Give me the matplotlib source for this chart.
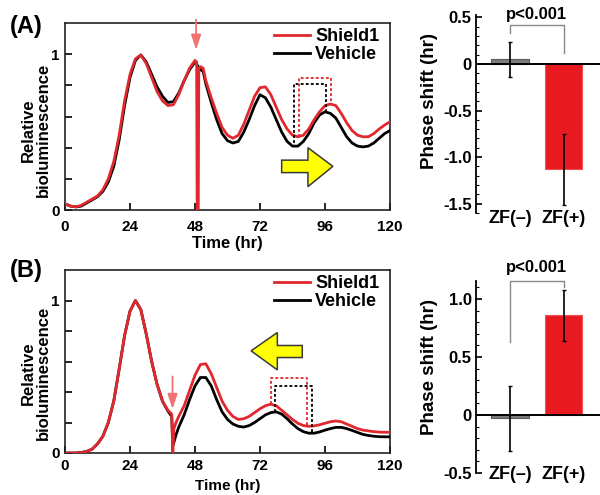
import matplotlib
matplotlib.use('Agg')
import matplotlib.pyplot as plt
from matplotlib.patches import Polygon

plt.rcParams['font.family'] = ['Liberation Sans', 'DejaVu Sans']
plt.rcParams['font.weight'] = 'bold'

RED = '#e0282e'
ARROW_RED = '#f07272'

# ---- panel A traces (time in hr, relative bioluminescence) ----
time_a = [0, 2, 4, 6, 8, 10, 12, 14, 16, 18, 20, 22, 24, 26, 28, 30, 32, 34, 36, 38,
          40, 42, 44, 46, 48, 48.6, 48.8, 49.2, 49.4, 50, 51,
          52, 54, 56, 58, 60, 62, 64, 66, 68, 70, 72, 74, 76, 78, 80, 82, 84, 86, 88,
          90, 92, 94, 96, 98, 100, 102, 104, 106, 108, 110, 112, 114, 116, 118, 120]
shield_a = [0.04, 0.025, 0.02, 0.03, 0.05, 0.07, 0.09, 0.13, 0.20, 0.31, 0.48, 0.70,
            0.87, 0.97, 0.995, 0.94, 0.85, 0.76, 0.70, 0.67, 0.675, 0.74, 0.83, 0.91,
            0.96, 0.95, 0.0, 0.0, 0.91, 0.92, 0.91,
            0.83, 0.72, 0.62, 0.53, 0.48, 0.46, 0.48, 0.55, 0.64, 0.73, 0.785, 0.79,
            0.74, 0.66, 0.58, 0.52, 0.48, 0.47, 0.48, 0.52, 0.58, 0.63, 0.67, 0.68,
            0.67, 0.62, 0.56, 0.51, 0.48, 0.47, 0.47, 0.49, 0.52, 0.545, 0.566]
vehicle_a = [0.04, 0.025, 0.02, 0.025, 0.045, 0.065, 0.085, 0.12, 0.18, 0.28, 0.45, 0.67,
             0.85, 0.96, 0.995, 0.95, 0.87, 0.79, 0.73, 0.69, 0.695, 0.75, 0.83, 0.90,
             0.95, 0.94, 0.93, 0.92, 0.91, 0.90, 0.89,
             0.81, 0.69, 0.58, 0.49, 0.445, 0.43, 0.44, 0.50, 0.58, 0.67, 0.74, 0.72,
             0.66, 0.58, 0.50, 0.44, 0.41, 0.41, 0.44, 0.49, 0.56, 0.61, 0.63, 0.62,
             0.59, 0.53, 0.47, 0.43, 0.41, 0.405, 0.41, 0.43, 0.46, 0.49, 0.51]

# ---- panel B traces ----
time_b = [0, 2, 4, 6, 8, 10, 12, 14, 16, 18, 20, 22, 24, 26, 28, 30, 32, 34, 36, 38,
          39.4, 39.8, 40.2, 41,
          42, 44, 46, 48, 50, 52, 54, 56, 58, 60, 62, 64, 66, 68, 70, 72, 74, 76, 78, 80,
          82, 84, 86, 88, 90, 92, 94, 96, 98, 100, 102, 104, 106, 108, 110, 112, 114,
          116, 118, 120]
shield_b = [0.0, 0.0, 0.0, 0.003, 0.01, 0.025, 0.06, 0.11, 0.20, 0.34, 0.55, 0.77,
            0.93, 1.0, 0.94, 0.78, 0.60, 0.45, 0.34, 0.28,
            0.255, 0.0, 0.16, 0.20,
            0.24, 0.31, 0.41, 0.51, 0.58, 0.585, 0.52, 0.43, 0.34, 0.28, 0.24, 0.22,
            0.225, 0.24, 0.265, 0.29, 0.31, 0.32, 0.31, 0.28, 0.25, 0.22, 0.195, 0.18,
            0.175, 0.178, 0.185, 0.195, 0.205, 0.21, 0.205, 0.19, 0.175, 0.16, 0.15,
            0.145, 0.14, 0.137, 0.136, 0.136]
vehicle_b = [0.0, 0.0, 0.0, 0.003, 0.01, 0.025, 0.06, 0.11, 0.20, 0.34, 0.55, 0.77,
             0.93, 1.0, 0.94, 0.78, 0.60, 0.45, 0.34, 0.275,
             0.24, 0.05, 0.07, 0.12,
             0.17, 0.25, 0.35, 0.44, 0.495, 0.495, 0.44, 0.35, 0.27, 0.22, 0.19, 0.175,
             0.17, 0.18, 0.20, 0.225, 0.25, 0.265, 0.27, 0.255, 0.225, 0.19, 0.16, 0.14,
             0.13, 0.13, 0.138, 0.15, 0.16, 0.168, 0.168, 0.16, 0.148, 0.135, 0.122,
             0.115, 0.11, 0.107, 0.106, 0.106]

# ---- phase shift bars ----
groups = ['ZF(\u2013)', 'ZF(+)']
shift_a = [0.05, -1.13]
err_a = [0.19, 0.38]
shift_b = [-0.03, 0.86]
err_b = [0.28, 0.22]

# peak/trough markers (dashed brackets): (t_left, y_left, t_right, y_right, top)
box_a_vehicle = (84.4, 0.43, 96.3, 0.63, 0.81)
box_a_shield = (86.3, 0.47, 98.1, 0.68, 0.845)
box_b_shield = (76.2, 0.32, 89.5, 0.185, 0.49)
box_b_vehicle = (77.7, 0.27, 91.3, 0.13, 0.44)


def px(x, y):
    """pixel position in the 600x495 canvas -> figure fraction"""
    return x / 600.0, 1 - y / 495.0


def draw_box(ax, box, color):
    t0, y0, t1, y1, top = box
    ax.plot([t0, t0, t1, t1], [y0, top, top, y1], color=color, lw=1.3,
            linestyle=(0, (1.6, 1.2)), zorder=4)


def draw_trace(ax, t, shield, vehicle, xpad=7):
    ax.plot(t, vehicle, color='black', lw=2.0, label='Vehicle', zorder=3)
    ax.plot(t, shield, color=RED, lw=2.0, label='Shield1', zorder=3.5)
    ax.set_xlim(0, 120)
    ax.set_ylim(0, 1.2)
    ax.set_xticks([0, 24, 48, 72, 96, 120])
    ax.set_xticklabels(['0', '24', '48', '72', '96', '120'], fontsize=11, fontweight='bold')
    ax.set_yticks([0, 0.2, 0.4, 0.6, 0.8, 1.0])
    ax.set_yticklabels(['0', '', '', '', '', '1'], fontsize=11, fontweight='bold')
    ax.tick_params(axis='x', direction='in', length=5, width=1.2, pad=xpad)
    ax.tick_params(axis='y', direction='in', length=5, width=1.2, pad=4)
    for s in ax.spines.values():
        s.set_linewidth(1.2)
        s.set_color('#222222')
    handles, labels = ax.get_legend_handles_labels()
    leg = ax.legend(handles[::-1], labels[::-1], loc='upper right',
                    bbox_to_anchor=(1.0, 1.03), frameon=False, fontsize=13,
                    handlelength=2.0, handletextpad=0.3, labelspacing=0.05,
                    borderaxespad=0.2)
    for txt in leg.get_texts():
        txt.set_fontweight('bold')


def draw_bars(ax, vals, errs, ylim, major, major_labels):
    x = [0, 1]
    ax.bar(x, vals, width=0.69, color=['#7d7d7d', '#e8191f'],
           edgecolor=['#5a5a5a', '#f05050'], linewidth=0.8, zorder=2)
    ax.errorbar(x, vals, yerr=errs, fmt='none', ecolor='black', elinewidth=1.2,
                capsize=1.5, capthick=1.0, zorder=3)
    ax.axhline(0, color='black', lw=1.4, zorder=4)
    ax.set_xlim(-0.63, 1.67)
    ax.set_ylim(*ylim)
    for side in ['top', 'right', 'bottom']:
        ax.spines[side].set_visible(False)
    ax.spines['left'].set_linewidth(1.3)
    ax.set_xticks([])
    ax.set_yticks(major)
    ax.set_yticklabels(major_labels, fontsize=12, fontweight='bold')
    minor = [round(ylim[0] + 0.1 * i, 2) for i in range(0, 40)]
    ax.set_yticks([m for m in minor if ylim[0] - 1e-6 <= m <= ylim[1]], minor=True)
    ax.tick_params(axis='y', which='major', direction='in', length=4, width=1.2, pad=3)
    ax.tick_params(axis='y', which='minor', direction='in', length=2.5, width=0.8)


fig = plt.figure(figsize=(6, 4.95), dpi=100)

# axes rectangles from pixel layout
ax_a = fig.add_axes([65 / 600, 1 - 210 / 495, 325 / 600, 187 / 495])
ax_b = fig.add_axes([65 / 600, 1 - 453 / 495, 325 / 600, 183 / 495])
bar_a = fig.add_axes([476 / 600, 1 - 213 / 495, 124 / 600, 198 / 495])
bar_b = fig.add_axes([476 / 600, 1 - 473 / 495, 124 / 600, 192 / 495])

draw_trace(ax_a, time_a, shield_a, vehicle_a)
draw_trace(ax_b, time_b, shield_b, vehicle_b, xpad=4.5)

draw_box(ax_a, box_a_vehicle, 'black')
draw_box(ax_a, box_a_shield, RED)
draw_box(ax_b, box_b_vehicle, 'black')
draw_box(ax_b, box_b_shield, RED)

# yellow direction arrows
arrow_right = [(80, 0.24), (89.7, 0.24), (89.7, 0.15), (98.9, 0.28),
               (89.7, 0.40), (89.7, 0.32), (80, 0.32)]
arrow_left = [(87.6, 0.626), (78.4, 0.626), (78.4, 0.545), (68.7, 0.67),
              (78.4, 0.79), (78.4, 0.705), (87.6, 0.705)]
ax_a.add_patch(Polygon(arrow_right, closed=True, facecolor='#ffff00',
                       edgecolor='#3a3a3a', lw=1.1, zorder=5))
ax_b.add_patch(Polygon(arrow_left, closed=True, facecolor='#ffff00',
                       edgecolor='#3a3a3a', lw=1.1, zorder=5))

# treatment arrows
ax_a.annotate('', xy=(48.4, 1.01), xytext=(48.4, 1.24), annotation_clip=False,
              arrowprops=dict(arrowstyle='-|>,head_length=0.9,head_width=0.3',
                              color=ARROW_RED, lw=1.3))
ax_b.annotate('', xy=(39.7, 0.27), xytext=(39.7, 0.52), annotation_clip=False,
              arrowprops=dict(arrowstyle='-|>,head_length=0.9,head_width=0.3',
                              color=ARROW_RED, lw=1.3))

draw_bars(bar_a, shift_a, err_a, (-1.6, 0.525), [0.5, 0, -0.5, -1.0, -1.5],
          ['0.5', '0', '-0.5', '-1.0', '-1.5'])
draw_bars(bar_b, shift_b, err_b, (-0.5, 1.155), [1.0, 0.5, 0, -0.5],
          ['1.0', '0.5', '0', '-0.5'])

# significance brackets
bar_a.plot([0, 0, 1, 1], [0.33, 0.42, 0.42, 0.12], color='#888888', lw=1.0,
           clip_on=False, zorder=5)
bar_a.text(0.5, 0.53, 'p<0.001', ha='center', va='center', fontsize=12,
           fontweight='bold', clip_on=False)
bar_b.plot([0, 0, 1, 1], [0.63, 1.155, 1.155, 1.10], color='#888888', lw=1.0,
           clip_on=False, zorder=5)
bar_b.text(0.5, 1.27, 'p<0.001', ha='center', va='center', fontsize=12,
           fontweight='bold', clip_on=False)

for bax, yfrac in [(bar_a, -0.03), (bar_b, -0.01)]:
    for i, g in enumerate(groups):
        bax.text(i, yfrac, g, ha='center', va='center', fontsize=13, fontweight='bold',
                 transform=bax.get_xaxis_transform(), clip_on=False)

# panel labels and axis titles
fig.text(*px(26, 26), '(A)', ha='center', va='center', fontsize=17, fontweight='bold')
fig.text(*px(26, 271), '(B)', ha='center', va='center', fontsize=17, fontweight='bold')
for yc in [130, 373]:
    fig.text(*px(36, yc), 'Relative\nbioluminescence', ha='center', va='center',
             rotation=90, fontsize=12, fontweight='bold', linespacing=0.95)
fig.text(*px(227.5, 243), 'Time (hr)', ha='center', va='center', fontsize=12,
         fontweight='bold')
fig.text(*px(227.5, 486), 'Time (hr)', ha='center', va='center', fontsize=11,
         fontweight='bold')
for yc in [101, 367]:
    fig.text(*px(430, yc), 'Phase shift (hr)', ha='center', va='center', rotation=90,
             fontsize=13.5, fontweight='bold')

fig.savefig('out.png', dpi=100, facecolor='white')
print("Saved: out.png")
